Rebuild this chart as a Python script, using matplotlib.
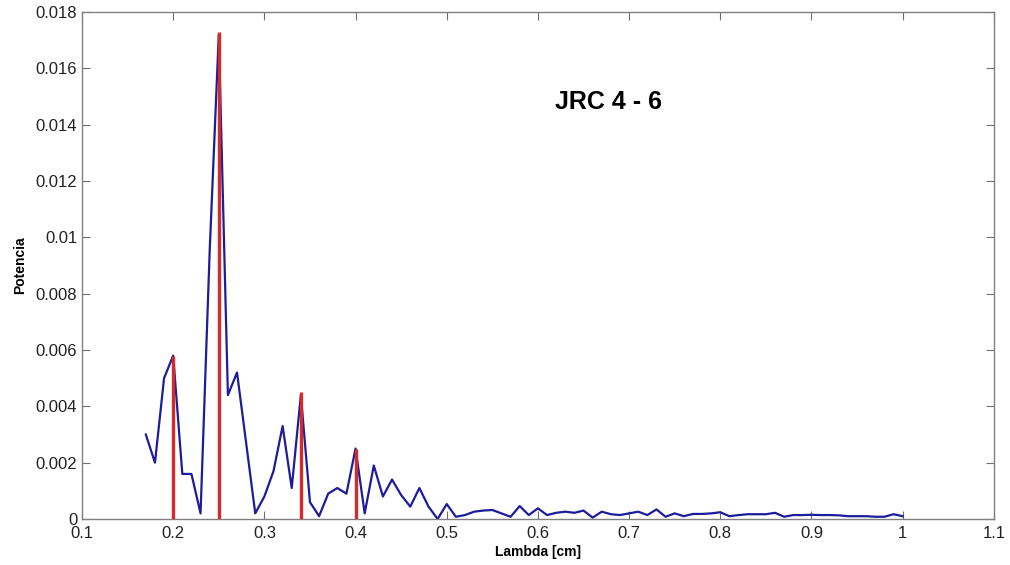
import matplotlib
matplotlib.use("Agg")
import matplotlib.pyplot as plt
from matplotlib.ticker import FuncFormatter

plt.rcParams['font.family'] = ['Liberation Sans', 'DejaVu Sans']

# lambda [cm], step 0.01 from 0.17 to 1.00
lam = [round(0.17 + 0.01 * i, 2) for i in range(84)]
pot = [0.0030, 0.0020, 0.0050, 0.0058, 0.0016, 0.0016, 0.0002, 0.0095,
       0.0172, 0.0044, 0.0052, 0.0027, 0.0002, 0.0008, 0.0017, 0.0033,
       0.0011, 0.0044, 0.0006, 0.0001, 0.0009, 0.0011, 0.0009, 0.0025,
       0.0002, 0.0019, 0.0008, 0.0014, 0.00085, 0.00044, 0.0011, 0.00044,
       0.0, 0.00053, 0.00008, 0.00014, 0.00026, 0.00030, 0.00032, 0.0002,
       0.00008, 0.00046, 0.00014, 0.00038, 0.00014, 0.00022, 0.00026, 0.00022,
       0.0003, 0.00005, 0.00026, 0.00017, 0.00014, 0.0002, 0.00026, 0.00014,
       0.00034, 0.00008, 0.0002, 0.0001, 0.00018, 0.00018, 0.0002, 0.00024,
       0.0001, 0.00014, 0.00017, 0.00017, 0.00017, 0.00022, 0.00008, 0.00014,
       0.00014, 0.00015, 0.00014, 0.00014, 0.00013, 0.0001, 0.0001, 0.0001,
       0.00008, 0.00008, 0.00017, 0.0001]

# dominant peaks
peak_lam = [0.20, 0.25, 0.34, 0.40]
peak_pot = [0.0058, 0.0173, 0.0045, 0.0025]

xticks = [0.1, 0.2, 0.3, 0.4, 0.5, 0.6, 0.7, 0.8, 0.9, 1.0, 1.1]
yticks = [0, 0.002, 0.004, 0.006, 0.008, 0.01, 0.012, 0.014, 0.016, 0.018]

fig = plt.figure(figsize=(10.1, 5.65), dpi=100)
ax = fig.add_axes([0.0812, 0.0814, 0.9028, 0.8974])

ax.plot(lam, pot, color='#1c1c9c', lw=1.6, zorder=2)
ax.vlines(peak_lam, 0, peak_pot, color='#d42a2a', lw=2.4, zorder=3)

ax.set_xlim(0.1, 1.1)
ax.set_ylim(0, 0.018)
ax.set_xticks(xticks)
ax.set_yticks(yticks)
fmt = FuncFormatter(lambda v, p: '%g' % round(v, 4))
ax.xaxis.set_major_formatter(fmt)
ax.yaxis.set_major_formatter(fmt)
ax.tick_params(direction='in', length=6, width=0.8, color='#707070',
               labelsize=12, labelcolor='#222222', top=True, right=True)
ax.tick_params(axis='x', pad=5)
for s in ax.spines.values():
    s.set_color('#808080')
    s.set_linewidth(1.0)

ax.set_xlabel('Lambda [cm]', fontsize=10, fontweight='bold', labelpad=3)
ax.set_ylabel('Potencia', fontsize=10, fontweight='bold', labelpad=6)

ax.text(0.677, 0.0148, 'JRC 4 - 6', fontsize=18, fontweight='bold',
        ha='center', va='center')

fig.savefig('out.png', dpi=100)
